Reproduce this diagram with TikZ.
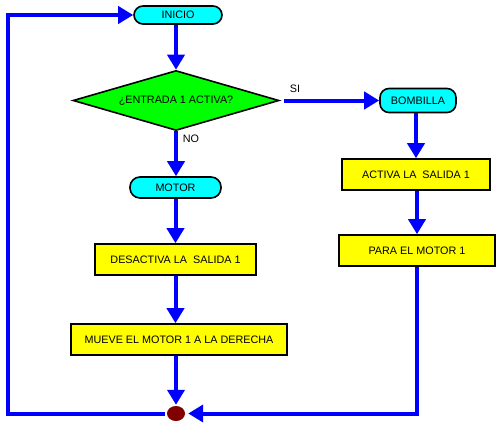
\documentclass[tikz,border=0pt]{standalone}
\usepackage{fontspec}
\setmainfont{Liberation Sans}
\usetikzlibrary{arrows.meta,shapes.geometric}
\definecolor{flowblue}{RGB}{0,0,255}
\definecolor{termcyan}{RGB}{0,255,255}
\definecolor{decgreen}{RGB}{0,255,0}
\definecolor{procyellow}{RGB}{255,255,0}
\definecolor{dotred}{RGB}{128,0,0}
\tikzset{
  base/.style={draw=black, line width=1.6pt, inner sep=0pt, font=\fontsize{10.8}{12}\selectfont},
  term/.style={base, fill=termcyan, rounded corners=9pt},
  proc/.style={base, fill=procyellow},
  dec/.style={base, diamond, fill=decgreen, aspect=3.43},
  flow/.style={draw=flowblue, line width=4pt, -{Triangle[width=17pt,length=15pt]}},
  lbl/.style={font=\fontsize{10.8}{12}\selectfont, inner sep=0pt}
}
\begin{document}
\begin{tikzpicture}[x=1pt,y=-1pt]
\useasboundingbox (0,0) rectangle (498,426);
\node[term, minimum width=88pt, minimum height=18pt] (inicio) at (178,15) {INICIO};
\node[dec, minimum width=206pt, minimum height=60pt] (decision) at (176,100.5) {¿ENTRADA 1 ACTIVA?};
\node[term, minimum width=76pt, minimum height=24pt] (bomb) at (418,100.5) {BOMBILLA};
\node[proc, minimum width=148pt, minimum height=31pt] (act) at (416,174.5) {ACTIVA LA~ SALIDA 1};
\node[proc, minimum width=156pt, minimum height=31pt] (para) at (417,250.5) {PARA EL MOTOR 1};
\node[term, minimum width=91pt, minimum height=21pt, rounded corners=10pt] (motor) at (175.5,187.5) {MOTOR};
\node[proc, minimum width=161pt, minimum height=31pt] (des) at (175.5,259.5) {DESACTIVA LA~ SALIDA 1};
\node[proc, minimum width=216pt, minimum height=31pt] (mueve) at (179,339.5) {MUEVE EL MOTOR 1 A LA DERECHA};
\node[ellipse, fill=dotred, inner sep=0pt, minimum width=18pt, minimum height=15pt] (dot) at (176,413.5) {};
\node[lbl] (si) at (295,89) {SI};
\node[lbl] (no) at (191,139) {NO};
\coordinate (cl) at (8,413.5);
\coordinate (ct) at (8,15);
% connectors
\draw[flow] (decision.north |- inicio.south) -- (decision.north);
\draw[flow, shorten <=4pt] (decision.east) -- (decision.east -| bomb.west);
\draw[flow] (bomb.south -| act.north) -- (act.north);
\draw[flow] (act.south -| para.north) -- (para.north);
\draw[flow, shorten >=3pt] (para.south) -- (para.south |- dot.east) -- (dot.east);
\draw[flow] (decision.south) -- (decision.south |- motor.north);
\draw[flow] (motor.south) -- (motor.south |- des.north);
\draw[flow] (des.south) -- (des.south |- mueve.north);
\draw[flow, shorten >=1pt] (dot.north |- mueve.south) -- (dot.north);
\draw[flow, shorten <=2pt] (dot.west) -- (cl) -- (ct) -- (inicio.west);
\end{tikzpicture}
\end{document}
